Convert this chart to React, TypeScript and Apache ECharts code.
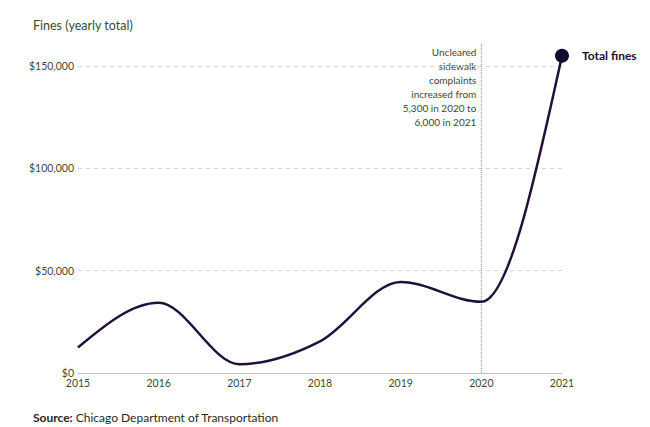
import React, { useEffect, useRef } from "react";
import * as echarts from "echarts";

const years = ["2015", "2016", "2017", "2018", "2019", "2020", "2021"];
const fines = [12500, 34300, 4300, 15500, 44500, 34800, 155000];
const yTicks = { min: 0, max: 150000, interval: 50000 };
const annotationYear = "2020";
const annotationLines = [
  "Uncleared",
  "sidewalk",
  "complaints",
  "increased from",
  "5,300 in 2020 to",
  "6,000 in 2021",
];

const FONT = "Lato, 'Noto Sans', sans-serif";
const GREEN = "#3b4a30";
const LINE = "#22103a";

// monotone-x cubic curve (as d3.curveMonotoneX) through pixel points
function monotonePath(pts: number[][]): string {
  const n = pts.length;
  if (n < 2) return "";
  const sign = (v: number) => (v < 0 ? -1 : 1);
  const t: number[] = new Array(n).fill(0);
  for (let i = 1; i < n - 1; i++) {
    const [x0, y0] = pts[i - 1];
    const [x1, y1] = pts[i];
    const [x2, y2] = pts[i + 1];
    const h0 = x1 - x0, h1 = x2 - x1;
    const s0 = (y1 - y0) / h0, s1 = (y2 - y1) / h1;
    const p = (s0 * h1 + s1 * h0) / (h0 + h1);
    t[i] = (sign(s0) + sign(s1)) * Math.min(Math.abs(s0), Math.abs(s1), 0.5 * Math.abs(p)) || 0;
  }
  const slope2 = (a: number[], b: number[], tt: number) => {
    const h = b[0] - a[0];
    return h ? (3 * (b[1] - a[1]) / h - tt) / 2 : tt;
  };
  if (n > 2) {
    t[0] = slope2(pts[0], pts[1], t[1]);
    t[n - 1] = slope2(pts[n - 2], pts[n - 1], t[n - 2]);
  } else {
    t[0] = t[1] = (pts[1][1] - pts[0][1]) / (pts[1][0] - pts[0][0]);
  }
  let d = `M${pts[0][0]},${pts[0][1]}`;
  for (let i = 0; i < n - 1; i++) {
    const [x0, y0] = pts[i];
    const [x1, y1] = pts[i + 1];
    const dx = (x1 - x0) / 3;
    d += `C${x0 + dx},${y0 + dx * t[i]},${x1 - dx},${y1 - dx * t[i + 1]},${x1},${y1}`;
  }
  return d;
}

export default function App() {
  const ref = useRef<HTMLDivElement>(null);
  useEffect(() => {
    if (!ref.current) return;
    document.body.style.margin = "0";
    const chart = echarts.init(ref.current, null, { renderer: "svg" });
    const last = fines.length - 1;
    chart.setOption({
      animation: false,
      textStyle: { fontFamily: FONT },
      grid: { left: 78, right: 88, top: 66, bottom: 54 },
      xAxis: {
        type: "category",
        data: years,
        boundaryGap: false,
        axisLine: { lineStyle: { color: "#c4c4c4", width: 1 } },
        axisTick: { show: false },
        axisLabel: { color: GREEN, fontSize: 10.5, margin: 4, fontFamily: FONT },
      },
      yAxis: {
        type: "value",
        min: yTicks.min,
        max: yTicks.max,
        interval: yTicks.interval,
        axisLine: { show: false },
        axisTick: { show: false },
        axisLabel: {
          color: GREEN,
          fontSize: 10.5,
          margin: 4,
          fontFamily: FONT,
          formatter: (v: number) => "$" + v.toLocaleString("en-US"),
        },
        splitLine: {
          lineStyle: { color: "#d6d6d6", type: [4, 4], width: 1 },
        },
      },
      series: [
        {
          type: "custom",
          data: fines.map((v, i) => [i, v]),
          encode: { x: 0, y: 1 },
          clip: false,
          z: 5,
          renderItem: (params: any, api: any) => {
            if (params.dataIndex !== 0) return null;
            const pts = fines.map((v, i) => api.coord([i, v]));
            return {
              type: "path",
              shape: { pathData: monotonePath(pts) },
              style: { stroke: LINE, lineWidth: 2.5, fill: "none" },
            };
          },
        },
        {
          type: "scatter",
          data: [[years[last], fines[last]]],
          symbol: "circle",
          symbolSize: 14,
          clip: false,
          z: 6,
          itemStyle: { color: "#150a2c", opacity: 1 },
          label: {
            show: true,
            position: "right",
            distance: 13,
            formatter: "Total fines",
            fontFamily: FONT,
            fontWeight: "bold",
            fontSize: 12,
            color: "#1e0c33",
          },
        },
      ],
      graphic: [
        {
          id: "title",
          type: "text",
          left: 33,
          top: 19,
          style: {
            text: "Fines (yearly total)",
            fontFamily: FONT,
            fontSize: 12.5,
            fill: GREEN,
          },
        },
        {
          id: "source",
          type: "text",
          left: 33,
          top: 411,
          style: {
            text: "{b|Source:} Chicago Department of Transportation",
            fontFamily: FONT,
            fontSize: 12,
            fill: "#1f2a1a",
            rich: {
              b: { fontWeight: "bold", fontFamily: FONT, fontSize: 12, fill: "#1f2a1a" },
            },
          },
        },
      ],
    });
    const x2020 = chart.convertToPixel({ xAxisIndex: 0 }, annotationYear) as number;
    const y0 = chart.convertToPixel({ yAxisIndex: 0 }, 0) as number;
    chart.setOption({
      graphic: [
        {
          id: "vline",
          type: "line",
          shape: { x1: x2020, y1: 44, x2: x2020, y2: y0 },
          style: { stroke: "#8a8a8a", lineWidth: 1, lineDash: [1, 1] },
          z: 3,
        },
        {
          id: "note",
          type: "text",
          x: x2020 - 5,
          y: 45,
          style: {
            text: annotationLines.join("\n"),
            align: "right",
            verticalAlign: "top",
            fontFamily: FONT,
            fontSize: 10,
            lineHeight: 14,
            fill: GREEN,
          },
        },
      ],
    });
    return () => chart.dispose();
  }, []);
  return <div ref={ref} style={{ width: 650, height: 427 }} />;
}
